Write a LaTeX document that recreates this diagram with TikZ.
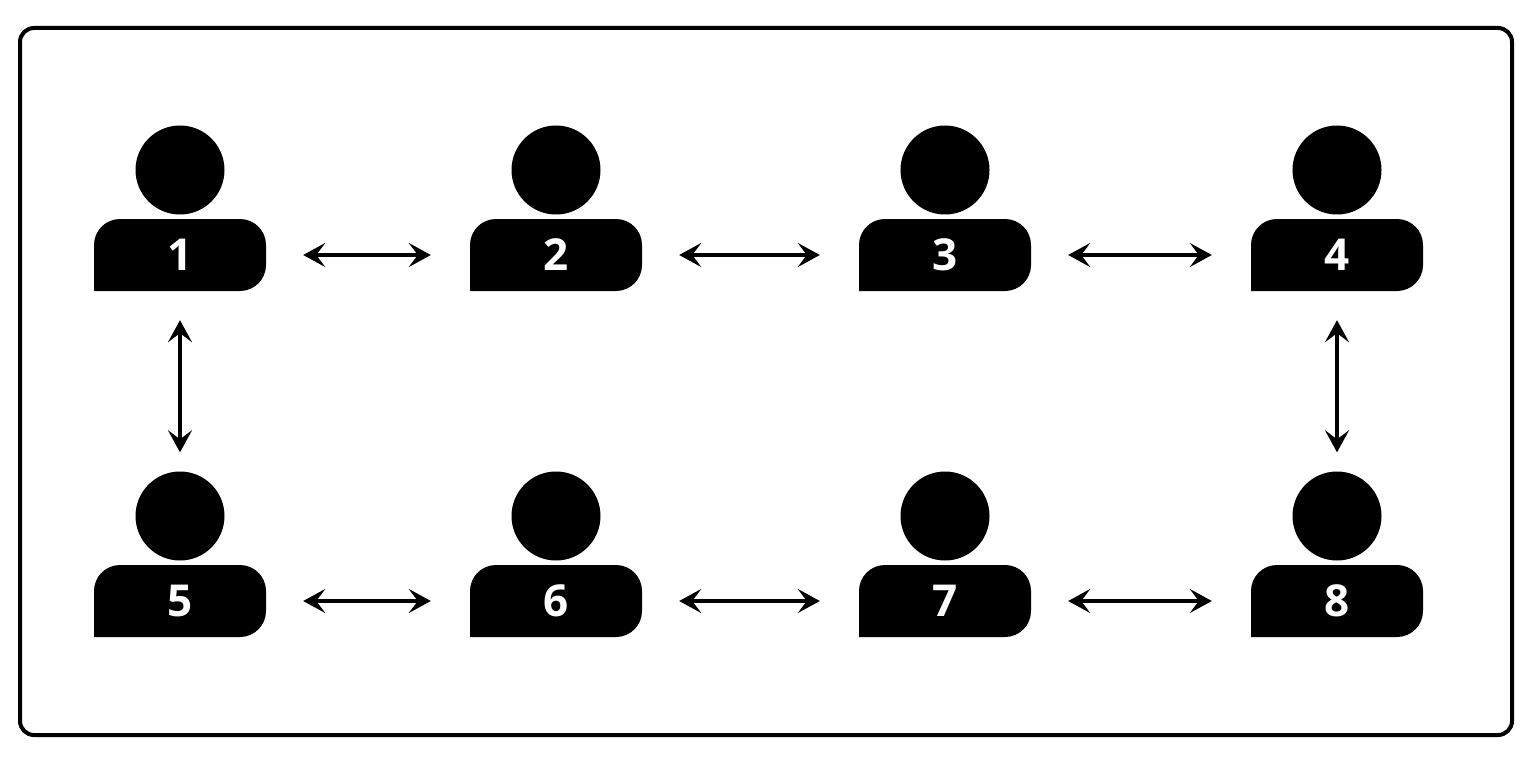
\documentclass[tikz,border=0pt]{standalone}
\usepackage{fontspec}
\setmainfont{Open Sans}
\usetikzlibrary{arrows.meta}
\begin{document}
\begin{tikzpicture}[x=1pt,y=-1pt,
  head/.style={circle,fill=black,minimum size=89pt,inner sep=0pt},
  body/.style={minimum width=172pt,minimum height=72pt,inner sep=0pt,text=white,font=\bfseries\fontsize{44}{44}\selectfont},
  link/.style={line width=3.2pt,{Stealth[length=22pt,width=24pt,inset=9pt]}-{Stealth[length=22pt,width=24pt,inset=9pt]}}]
\useasboundingbox (0,0) rectangle (1538,762);
\draw[line width=4pt,rounded corners=14pt] (20,28) rectangle (1512,735);
\foreach \i/\x/\y in {1/180/0,2/556/0,3/945/0,4/1337/0,5/180/346,6/556/346,7/945/346,8/1337/346}{
  \node[head] (h\i) at (\x,170+\y) {};
  \fill[rounded corners=26pt] (\x-86,291+\y) -- (\x-86,219+\y) -- (\x+86,219+\y) -- (\x+86,291+\y) [sharp corners] -- cycle;
  \node[body] (b\i) at (\x,255+\y) {\raisebox{-4pt}{\i}};
}
\foreach \a/\b in {1/2,2/3,3/4,5/6,6/7,7/8}{
  \draw[link] ([xshift=37pt]b\a.east) -- ([xshift=-39pt]b\b.west);
}
\draw[link] ([yshift=-29pt]b1.south) -- ([yshift=19pt]h5.north);
\draw[link] ([yshift=-29pt]b4.south) -- ([yshift=19pt]h8.north);
\end{tikzpicture}
\end{document}
